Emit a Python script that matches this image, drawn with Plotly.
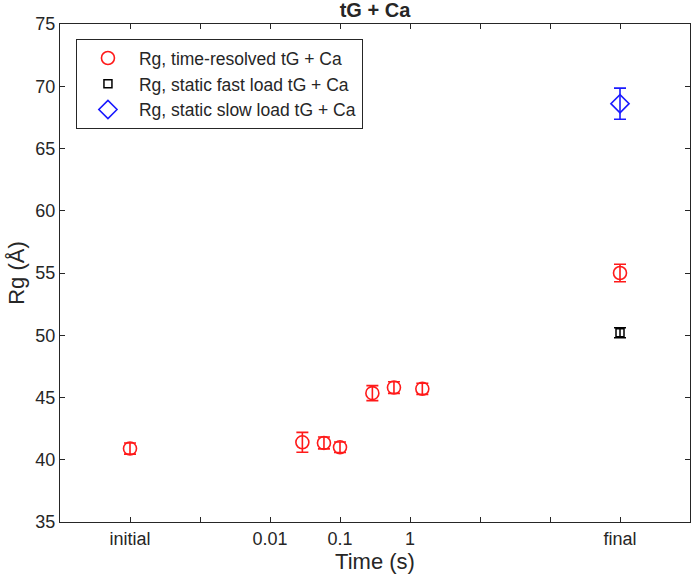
import plotly.graph_objects as go

# Tick positions on the log time axis (initial / final are placed at 1e-4 and 1e3)
tick_vals = [1e-4, 1e-3, 0.01, 0.1, 1, 10, 100, 1000]
tick_text = ["initial", "", "0.01", "0.1", "1", "", "", "final"]

# Time-resolved tG + Ca
tr_time = [1e-4, 0.029, 0.059, 0.1, 0.29, 0.59, 1.5, 1000]
tr_rg = [40.9, 41.4, 41.35, 41.0, 45.35, 45.8, 45.7, 55.0]
tr_err = [0.45, 0.8, 0.48, 0.42, 0.6, 0.47, 0.45, 0.7]

# Static fast load
fast_time = [1000]
fast_rg = [50.2]
fast_err = [0.4]

# Static slow load
slow_time = [1000]
slow_rg = [68.6]
slow_err = [1.25]

FONT = "Liberation Sans, Arial, Helvetica, sans-serif"
INK = "#262626"

fig = go.Figure()
fig.add_trace(go.Scatter(
    x=tr_time, y=tr_rg, mode="markers", name="Rg, time-resolved tG + Ca",
    marker=dict(symbol="circle-open", size=13, color="#ff1a1a", line=dict(width=1.6)),
    error_y=dict(type="data", array=tr_err, color="#ff1a1a", thickness=1.6, width=6),
))
fig.add_trace(go.Scatter(
    x=fast_time, y=fast_rg, mode="markers", name="Rg, static fast load tG + Ca",
    marker=dict(symbol="square-open", size=8, color="black", line=dict(width=1.5)),
    error_y=dict(type="data", array=fast_err, color="black", thickness=1.5, width=6),
))
fig.add_trace(go.Scatter(
    x=slow_time, y=slow_rg, mode="markers", name="Rg, static slow load tG + Ca",
    marker=dict(symbol="diamond-open", size=14, color="#1a1aff", line=dict(width=1.6)),
    error_y=dict(type="data", array=slow_err, color="#1a1aff", thickness=1.6, width=6),
))

axis_common = dict(
    showline=True, linecolor=INK, linewidth=1.3, mirror="ticks",
    ticks="inside", ticklen=5, tickcolor=INK, tickwidth=1.2,
    showgrid=False, zeroline=False, automargin=False,
    tickfont=dict(family=FONT, size=18, color=INK),
)

fig.update_layout(
    width=692, height=577,
    margin=dict(l=60, r=2, t=24, b=55),
    paper_bgcolor="white", plot_bgcolor="white",
    title=dict(text="<b>tG + Ca</b>", x=(60 + 690) / 2 / 692, xanchor="center",
               y=1 - 10 / 577, yanchor="middle",
               font=dict(family=FONT, size=20, color=INK)),
    xaxis=dict(type="log", range=[-5, 4], tickvals=tick_vals, ticktext=tick_text,
               title=dict(text="Time (s)", font=dict(family=FONT, size=22, color=INK),
                          standoff=4),
               **axis_common),
    yaxis=dict(range=[35, 75], dtick=5,
               title=dict(text="Rg (Å)", font=dict(family=FONT, size=22, color=INK),
                          standoff=4),
               **axis_common),
    legend=dict(x=0.025, y=0.97, xanchor="left", yanchor="top",
                bordercolor=INK, borderwidth=1.2, bgcolor="white",
                font=dict(family=FONT, size=17.5, color=INK),
                tracegroupgap=0, itemwidth=52),
    showlegend=True,
)

# Remove the page's default body margin so the figure fills the window exactly.
fig.write_html("out.html", config={"displayModeBar": False},
               post_script="document.body.style.margin='0';")
